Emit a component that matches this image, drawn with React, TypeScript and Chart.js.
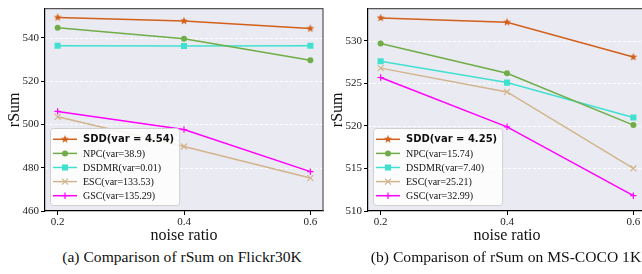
import React, { useEffect, useRef } from 'react';
import { Chart, registerables } from 'chart.js';
Chart.register(...registerables);

// ---- data ----
const noiseRatios = [0.2, 0.4, 0.6];
const xTicks = [0.2, 0.4, 0.6];
const seriesNames = ['SDD', 'NPC', 'DSDMR', 'ESC', 'GSC'];

const flickrLabels = ['SDD(var = 4.54)', 'NPC(var=38.9)', 'DSDMR(var=0.01)', 'ESC(var=133.53)', 'GSC(var=135.29)'];
const flickrSDD = [549.4, 547.8, 544.3];
const flickrNPC = [544.6, 539.6, 529.6];
const flickrDSDMR = [536.3, 536.2, 536.3];
const flickrESC = [503.5, 489.8, 475.2];
const flickrGSC = [506.0, 497.6, 478.2];
const flickrYTicks = [460, 480, 500, 520, 540];
const flickrYRange = [460, 553.5];

const cocoLabels = ['SDD(var = 4.25)', 'NPC(var=15.74)', 'DSDMR(var=7.40)', 'ESC(var=25.21)', 'GSC(var=32.99)'];
const cocoSDD = [532.7, 532.2, 528.1];
const cocoNPC = [529.7, 526.2, 520.1];
const cocoDSDMR = [527.6, 525.1, 521.0];
const cocoESC = [526.8, 524.0, 515.0];
const cocoGSC = [525.7, 519.9, 511.8];
const cocoYTicks = [510, 515, 520, 525, 530];
const cocoYRange = [510, 533.8];

const captionA = '(a) Comparison of rSum on Flickr30K';
const captionB = '(b) Comparison of rSum on MS-COCO 1K';
const xTitle = 'noise ratio';
const yTitle = 'rSum';

// ---- styles ----
const colors = ['#D2601A', '#70AD47', '#40E0D0', '#D2B48C', '#FF00FF'];
const SERIF = '"Liberation Serif", "Times New Roman", serif';

function makeStar(color: string) {
  const c = document.createElement('canvas');
  c.width = 10;
  c.height = 10;
  const ctx = c.getContext('2d')!;
  ctx.fillStyle = color;
  ctx.beginPath();
  for (let i = 0; i < 10; i++) {
    const r = i % 2 === 0 ? 4.2 : 1.8;
    const a = -Math.PI / 2 + (i * Math.PI) / 5;
    const px = 5 + r * Math.cos(a);
    const py = 5 + r * Math.sin(a);
    if (i === 0) ctx.moveTo(px, py);
    else ctx.lineTo(px, py);
  }
  ctx.closePath();
  ctx.fill();
  return c;
}

function drawMarker(ctx: CanvasRenderingContext2D, ds: any, x: number, y: number) {
  const st = ds.pointStyle;
  const r = ds.pointRadius;
  ctx.save();
  ctx.fillStyle = ds.pointBackgroundColor;
  ctx.strokeStyle = ds.pointBorderColor;
  ctx.lineWidth = ds.pointBorderWidth;
  if (typeof st !== 'string') {
    ctx.drawImage(st, x - st.width / 2, y - st.height / 2);
  } else if (st === 'circle') {
    ctx.beginPath();
    ctx.arc(x, y, r, 0, Math.PI * 2);
    ctx.fill();
  } else if (st === 'rect') {
    const s = Math.SQRT1_2 * r;
    ctx.fillRect(x - s, y - s, 2 * s, 2 * s);
  } else if (st === 'cross') {
    ctx.beginPath();
    ctx.moveTo(x - r, y);
    ctx.lineTo(x + r, y);
    ctx.moveTo(x, y - r);
    ctx.lineTo(x, y + r);
    ctx.stroke();
  } else if (st === 'crossRot') {
    const s = Math.SQRT1_2 * r;
    ctx.beginPath();
    ctx.moveTo(x - s, y - s);
    ctx.lineTo(x + s, y + s);
    ctx.moveTo(x - s, y + s);
    ctx.lineTo(x + s, y - s);
    ctx.stroke();
  }
  ctx.restore();
}

const panelPlugin = {
  id: 'panelPlugin',
  beforeDraw(chart: any) {
    const { ctx, chartArea } = chart;
    const { left, top, right, bottom } = chartArea;
    ctx.save();
    ctx.fillStyle = '#EAEAF2';
    ctx.fillRect(left, top, right - left, bottom - top);
    const yScale = chart.scales.y;
    ctx.strokeStyle = '#FFFFFF';
    ctx.lineWidth = 1;
    ctx.setLineDash([3, 2]);
    yScale.ticks.forEach((t: any) => {
      const py = Math.round(yScale.getPixelForValue(t.value)) + 0.5;
      if (py > top + 1 && py < bottom - 1) {
        ctx.beginPath();
        ctx.moveTo(left, py);
        ctx.lineTo(right, py);
        ctx.stroke();
      }
    });
    ctx.restore();
  },
  afterDraw(chart: any) {
    const { ctx, chartArea } = chart;
    const { left, top, right, bottom } = chartArea;
    ctx.save();
    // top and right spines
    ctx.strokeStyle = '#555555';
    ctx.lineWidth = 1.2;
    ctx.beginPath();
    ctx.moveTo(left, top);
    ctx.lineTo(right, top);
    ctx.lineTo(right, bottom);
    ctx.stroke();

    // legend
    const dss = chart.data.datasets;
    const rowH = 14.1;
    const fonts = dss.map((_: any, i: number) => (i === 0 ? 'bold 10px "DejaVu Sans"' : `10px ${SERIF}`));
    let maxW = 0;
    dss.forEach((ds: any, i: number) => {
      ctx.font = fonts[i];
      maxW = Math.max(maxW, ctx.measureText(ds.label).width);
    });
    const x0 = left + 5;
    const boxW = 33 + maxW + 5;
    const boxH = 77;
    const y0 = bottom - 6 - boxH;
    ctx.fillStyle = 'rgba(255,255,255,0.85)';
    ctx.strokeStyle = '#D0D0D0';
    ctx.lineWidth = 1;
    ctx.beginPath();
    (ctx as any).roundRect(x0 + 0.5, y0 + 0.5, boxW, boxH, 3);
    ctx.fill();
    ctx.stroke();
    dss.forEach((ds: any, i: number) => {
      const cy = y0 + 11.3 + i * rowH;
      ctx.strokeStyle = ds.borderColor;
      ctx.lineWidth = ds.borderWidth;
      ctx.beginPath();
      ctx.moveTo(x0 + 3, cy);
      ctx.lineTo(x0 + 27, cy);
      ctx.stroke();
      drawMarker(ctx, ds, x0 + 15, cy);
      ctx.font = fonts[i];
      ctx.fillStyle = '#111';
      ctx.textAlign = 'left';
      ctx.textBaseline = 'middle';
      ctx.fillText(ds.label, x0 + 33, cy + 0.5);
    });
    ctx.restore();
  },
};

function buildDatasets(labels: string[], series: number[][]) {
  const styles: any[] = [
    { pointStyle: makeStar(colors[0]), pointRadius: 4 },
    { pointStyle: 'circle', pointRadius: 3 },
    { pointStyle: 'rect', pointRadius: 4.3 },
    { pointStyle: 'crossRot', pointRadius: 4.2, pointBorderWidth: 1.2 },
    { pointStyle: 'cross', pointRadius: 3.2, pointBorderWidth: 1.2 },
  ];
  return series.map((vals, i) => ({
    label: labels[i],
    name: seriesNames[i],
    data: vals.map((v, j) => ({ x: noiseRatios[j], y: v })),
    borderColor: colors[i],
    backgroundColor: colors[i],
    pointBackgroundColor: colors[i],
    pointBorderColor: colors[i],
    pointBorderWidth: 0,
    borderWidth: 1.5,
    tension: 0,
    ...styles[i],
  }));
}

function Panel(props: { labels: string[]; series: number[][]; yTicks: number[]; yRange: number[] }) {
  const ref = useRef<HTMLCanvasElement>(null);
  useEffect(() => {
    const tickFont = { family: SERIF, size: 11 };
    const chart = new Chart(ref.current!, {
      type: 'line',
      data: { datasets: buildDatasets(props.labels, props.series) as any },
      options: {
        animation: false,
        responsive: false,
        devicePixelRatio: 1,
        layout: { padding: { top: 3, right: 7, left: 0, bottom: 0 } },
        plugins: { legend: { display: false }, tooltip: { enabled: false } },
        scales: {
          x: {
            type: 'linear',
            min: 0.18,
            max: 0.62,
            afterBuildTicks: (s: any) => {
              s.ticks = xTicks.map((v) => ({ value: v }));
            },
            afterFit: (s: any) => {
              s.height = 34;
            },
            ticks: {
              font: tickFont,
              color: '#222',
              padding: 1,
              maxRotation: 0,
              callback: (v: any) => Number(v).toFixed(1),
            },
            grid: { drawOnChartArea: false, drawTicks: true, tickLength: 4, tickColor: '#000' },
            border: { color: '#000', width: 1.2 },
            title: { display: true, text: xTitle, font: { family: SERIF, size: 16 }, color: '#111', padding: 0 },
          },
          y: {
            type: 'linear',
            min: props.yRange[0],
            max: props.yRange[1],
            afterBuildTicks: (s: any) => {
              s.ticks = props.yTicks.map((v) => ({ value: v }));
            },
            afterFit: (s: any) => {
              s.width = 45;
            },
            ticks: { font: tickFont, color: '#222', padding: 2 },
            grid: { drawOnChartArea: false, drawTicks: true, tickLength: 4, tickColor: '#000' },
            border: { color: '#000', width: 1.2 },
            title: { display: true, text: yTitle, font: { family: SERIF, size: 16 }, color: '#111', padding: { top: 5, bottom: 0 } },
          },
        },
      },
      plugins: [panelPlugin],
    });
    return () => chart.destroy();
  }, []);
  return <canvas ref={ref} width={330} height={245} style={{ width: 330, height: 245, display: 'block' }} />;
}

export default function App() {
  const captionStyle: React.CSSProperties = {
    position: 'absolute',
    top: 248,
    fontFamily: SERIF,
    fontSize: 15.6,
    color: '#111',
    whiteSpace: 'nowrap',
    transform: 'translateX(-50%)',
    lineHeight: '18px',
  };
  return (
    <div style={{ position: 'fixed', left: 0, top: 0, width: 642, height: 274, overflow: 'hidden', background: '#fff' }}>
      <div style={{ position: 'absolute', left: 0, top: 0 }}>
        <Panel labels={flickrLabels} series={[flickrSDD, flickrNPC, flickrDSDMR, flickrESC, flickrGSC]} yTicks={flickrYTicks} yRange={flickrYRange} />
      </div>
      <div style={{ position: 'absolute', left: 323, top: 0 }}>
        <Panel labels={cocoLabels} series={[cocoSDD, cocoNPC, cocoDSDMR, cocoESC, cocoGSC]} yTicks={cocoYTicks} yRange={cocoYRange} />
      </div>
      <div style={{ ...captionStyle, left: 182 }}>{captionA}</div>
      <div style={{ ...captionStyle, left: 506 }}>{captionB}</div>
    </div>
  );
}
